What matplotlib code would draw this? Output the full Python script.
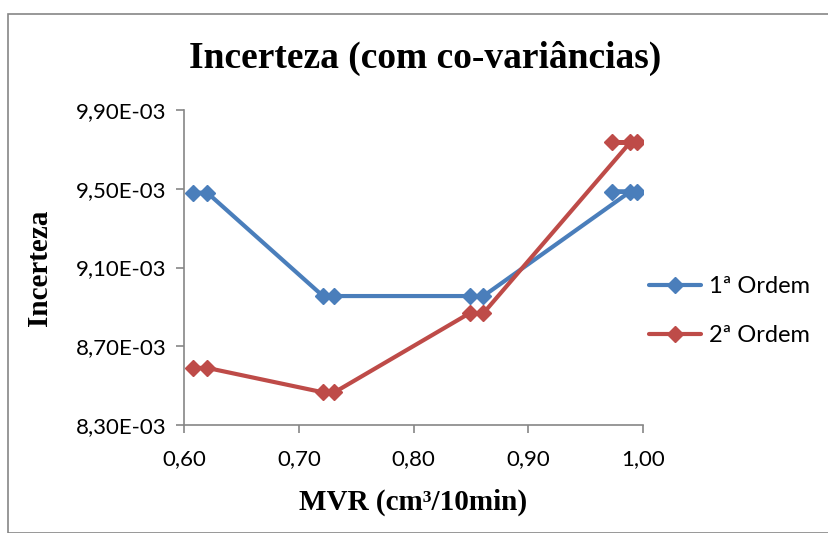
import matplotlib
matplotlib.use("Agg")
import matplotlib.pyplot as plt
from matplotlib.ticker import FuncFormatter, FixedLocator
from matplotlib.patches import Rectangle

# Data
mvr_1 = [0.608, 0.620, 0.721, 0.731, 0.849, 0.861, 0.989, 0.973, 0.995]
inc_1 = [9.480e-3, 9.480e-3, 8.955e-3, 8.955e-3, 8.955e-3, 8.955e-3, 9.485e-3, 9.485e-3, 9.485e-3]
mvr_2 = [0.608, 0.620, 0.721, 0.731, 0.849, 0.861, 0.989, 0.973, 0.995]
inc_2 = [8.590e-3, 8.590e-3, 8.466e-3, 8.466e-3, 8.868e-3, 8.868e-3, 9.735e-3, 9.735e-3, 9.735e-3]
series_names = ["1ª Ordem", "2ª Ordem"]
x_ticks = [0.60, 0.70, 0.80, 0.90, 1.00]
y_ticks = [8.30e-3, 8.70e-3, 9.10e-3, 9.50e-3, 9.90e-3]
title = "Incerteza (com co-variâncias)"
xlabel = "MVR (cm³/10min)"
ylabel = "Incerteza"

W, H = 829, 533
fig = plt.figure(figsize=(W / 100, H / 100), dpi=100)
ax = fig.add_axes([184.3 / W, 1 - 425 / H, (642.7 - 184.3) / W, (425 - 110) / H])

blue = "#4A7EBB"
red = "#BE4B48"
ax.plot(mvr_1, inc_1, color=blue, lw=3.0, marker="D", ms=8, mec=blue, mfc=blue,
        label=series_names[0], solid_capstyle="round", solid_joinstyle="round")
ax.plot(mvr_2, inc_2, color=red, lw=3.0, marker="D", ms=8, mec=red, mfc=red,
        label=series_names[1], solid_capstyle="round", solid_joinstyle="round")

ax.set_xlim(x_ticks[0], x_ticks[-1])
ax.set_ylim(y_ticks[0], y_ticks[-1])
ax.xaxis.set_major_locator(FixedLocator(x_ticks))
ax.yaxis.set_major_locator(FixedLocator(y_ticks))
ax.xaxis.set_major_formatter(FuncFormatter(lambda v, p: f"{v:.2f}".replace(".", ",")))
ax.yaxis.set_major_formatter(FuncFormatter(lambda v, p: f"{v:.2E}".replace(".", ",")))

for s in ["top", "right"]:
    ax.spines[s].set_visible(False)
for s in ["left", "bottom"]:
    ax.spines[s].set_color("#868686")
    ax.spines[s].set_linewidth(1.2)
ax.tick_params(axis="both", direction="out", length=6, width=1.2, color="#868686",
               labelsize=16)
ax.tick_params(axis="y", pad=7)
ax.tick_params(axis="x", pad=11)
for lab in ax.get_xticklabels() + ax.get_yticklabels():
    lab.set_fontfamily("Lato")

serif = "Liberation Serif"
fig.text(425 / W, 1 - 58 / H, title, ha="center", va="center", fontsize=27,
         fontweight="bold", family=serif)
fig.text(413 / W, 1 - 502 / H, xlabel, ha="center", va="center", fontsize=21,
         fontweight="bold", family=serif)
fig.text(40 / W, 1 - 268 / H, ylabel, ha="center", va="center", fontsize=21,
         fontweight="bold", family=serif, rotation=90)

leg = ax.legend(loc="center left", bbox_to_anchor=(628 / W, 1 - 311 / H),
                bbox_transform=fig.transFigure, frameon=False,
                prop={"family": "Lato", "size": 17}, handlelength=2.2,
                labelspacing=1.2, handletextpad=0.35)

fig.patches.append(Rectangle((8.5 / W, 0), 1.0, 1 - 13.5 / H, transform=fig.transFigure,
                             fill=False, edgecolor="#868686", lw=1.2))

fig.savefig("out.png", dpi=100)
